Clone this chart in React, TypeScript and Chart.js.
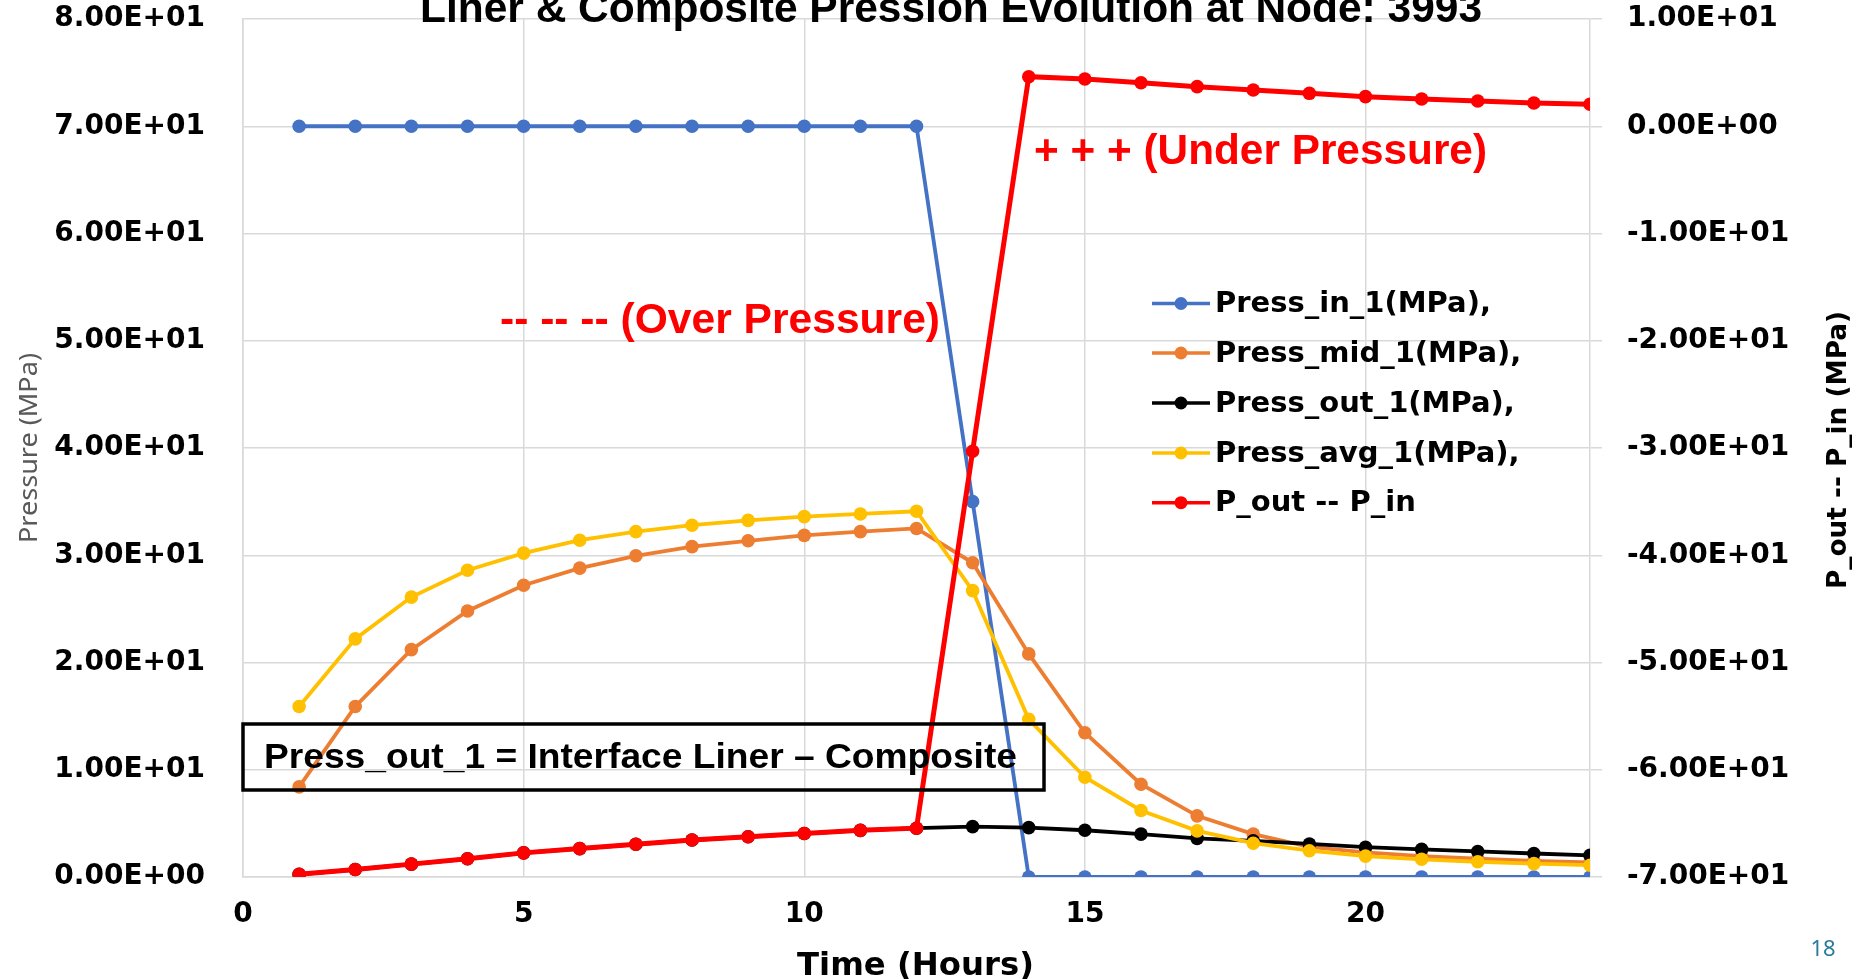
import React, { useEffect, useRef } from 'react';
import { Chart, registerables } from 'chart.js';

Chart.register(...registerables);

// ---------- data ----------
const hours = [1, 2, 3, 4, 5, 6, 7, 8, 9, 10, 11, 12, 13, 14, 15, 16, 17, 18, 19, 20, 21, 22, 23, 24];
const pressIn1 = [70, 70, 70, 70, 70, 70, 70, 70, 70, 70, 70, 70, 35, 0, 0, 0, 0, 0, 0, 0, 0, 0, 0, 0];
const pressMid1 = [8.4, 15.9, 21.2, 24.8, 27.2, 28.8, 29.95, 30.8, 31.35, 31.85, 32.2, 32.5, 29.3, 20.8, 13.45, 8.65, 5.7, 4.0, 2.8, 2.3, 1.95, 1.7, 1.5, 1.35];
const pressOut1 = [0.25, 0.7, 1.2, 1.7, 2.25, 2.65, 3.05, 3.45, 3.75, 4.05, 4.35, 4.55, 4.7, 4.6, 4.36, 4.0, 3.6, 3.37, 3.08, 2.78, 2.58, 2.38, 2.19, 2.02];
const pressAvg1 = [15.9, 22.2, 26.1, 28.6, 30.2, 31.4, 32.2, 32.8, 33.25, 33.6, 33.85, 34.1, 26.7, 14.7, 9.3, 6.2, 4.3, 3.15, 2.45, 1.95, 1.65, 1.42, 1.25, 1.1];
const pOutMinusPIn = [-69.75, -69.3, -68.8, -68.3, -67.75, -67.35, -66.95, -66.55, -66.25, -65.95, -65.65, -65.45, -30.3, 4.62, 4.4, 4.06, 3.69, 3.38, 3.07, 2.76, 2.54, 2.35, 2.17, 2.05];

const seriesNames = ['Press_in_1(MPa),', 'Press_mid_1(MPa),', 'Press_out_1(MPa),', 'Press_avg_1(MPa),', 'P_out -- P_in'];
const seriesColors = ['#4472C4', '#ED7D31', '#000000', '#FFC000', '#FF0000'];
const xTickValues = [0, 5, 10, 15, 20];

const titleText = 'Liner & Composite Pression Evolution at Node: 3993';
const xAxisTitle = 'Time (Hours)';
const leftAxisTitle = 'Pressure (MPa)';
const rightAxisTitle = 'P_out -- P_in (MPa)';
const overText = '-- -- -- (Over Pressure)';
const underText = '+ + + (Under Pressure)';
const boxText = 'Press_out_1 = Interface Liner \u2013 Composite';
const slideNumber = '18';

// ---------- helpers ----------
const fmtE = (v: number) => {
  const [m, e] = Number(v).toExponential(2).split('e');
  const sign = e[0] === '-' ? '-' : '+';
  const digits = e.replace(/[+-]/, '').padStart(2, '0');
  return `${m}E${sign}${digits}`;
};

const fitText = (
  ctx: CanvasRenderingContext2D,
  text: string,
  x: number,
  y: number,
  width: number,
  font: string,
  color: string
) => {
  ctx.save();
  ctx.font = font;
  ctx.fillStyle = color;
  ctx.textAlign = 'left';
  ctx.textBaseline = 'alphabetic';
  const m = ctx.measureText(text).width;
  ctx.translate(x, y);
  ctx.scale(width / m, 1);
  ctx.fillText(text, 0, 0);
  ctx.restore();
};

const rotText = (
  ctx: CanvasRenderingContext2D,
  text: string,
  cx: number,
  cy: number,
  length: number,
  font: string,
  color: string
) => {
  ctx.save();
  ctx.font = font;
  ctx.fillStyle = color;
  ctx.textAlign = 'center';
  ctx.textBaseline = 'middle';
  const m = ctx.measureText(text).width;
  ctx.translate(cx, cy);
  ctx.rotate(-Math.PI / 2);
  ctx.scale(length / m, 1);
  ctx.fillText(text, 0, 0);
  ctx.restore();
};

const decorPlugin = {
  id: 'decor',
  afterDraw(chart: any) {
    const ctx: CanvasRenderingContext2D = chart.ctx;
    // Title (partially cut at the top)
    fitText(ctx, titleText, 420, 22, 1062, 'bold 42px "Liberation Sans", Arial, sans-serif', '#000');
    // annotations
    fitText(ctx, overText, 500, 333, 440, 'bold 42px "Liberation Sans", Arial, sans-serif', '#FF0000');
    fitText(ctx, underText, 1034, 164, 453, 'bold 42px "Liberation Sans", Arial, sans-serif', '#FF0000');
    // box
    ctx.save();
    ctx.strokeStyle = '#000';
    ctx.lineWidth = 3.5;
    ctx.strokeRect(243, 724, 801, 66);
    ctx.restore();
    fitText(ctx, boxText, 264, 768, 753, 'bold 35px "Liberation Sans", Arial, sans-serif', '#000');
    // axis titles
    rotText(ctx, leftAxisTitle, 30, 448, 190, '26px "Noto Sans", sans-serif', '#595959');
    rotText(ctx, rightAxisTitle, 1839, 450, 278, 'bold 27px "DejaVu Sans", sans-serif', '#000');
    fitText(ctx, xAxisTitle, 797, 975, 237, 'bold 32px "DejaVu Sans", sans-serif', '#000');
    // legend
    const rows = [303.5, 353, 403, 453, 502.7];
    seriesNames.forEach((name, i) => {
      const y = rows[i];
      ctx.save();
      ctx.strokeStyle = seriesColors[i];
      ctx.lineWidth = 3.5;
      ctx.beginPath();
      ctx.moveTo(1152, y);
      ctx.lineTo(1210, y);
      ctx.stroke();
      ctx.fillStyle = seriesColors[i];
      ctx.beginPath();
      ctx.arc(1181, y, 6.5, 0, Math.PI * 2);
      ctx.fill();
      ctx.font = 'bold 29px "DejaVu Sans", sans-serif';
      ctx.fillStyle = '#000';
      ctx.textAlign = 'left';
      ctx.textBaseline = 'middle';
      ctx.fillText(name, 1215, y + 1);
      ctx.restore();
    });
    // slide number
    ctx.save();
    ctx.font = '22px "Noto Sans", sans-serif';
    ctx.fillStyle = '#2A7B9B';
    ctx.textAlign = 'center';
    ctx.textBaseline = 'middle';
    ctx.fillText(slideNumber, 1823, 950);
    ctx.restore();
  },
};

const tickFont = { family: '"DejaVu Sans", sans-serif', weight: 'bold' as const, size: 28 };
const gridColor = '#D9D9D9';

export default function App() {
  const ref = useRef<HTMLCanvasElement | null>(null);

  useEffect(() => {
    if (!ref.current) return;
    const series = [pressIn1, pressMid1, pressOut1, pressAvg1, pOutMinusPIn];
    const orders = [4, 3, 2, 1, 0];
    const widths = [3.8, 3.8, 3.8, 3.8, 5];
    const datasets = series.map((arr, i) => ({
      label: seriesNames[i],
      data: hours.map((h, j) => ({ x: h, y: arr[j] })),
      borderColor: seriesColors[i],
      backgroundColor: seriesColors[i],
      borderWidth: widths[i],
      pointRadius: 6.8,
      pointBorderWidth: 0,
      pointBackgroundColor: seriesColors[i],
      tension: 0,
      order: orders[i],
      yAxisID: i === 4 ? 'y2' : 'y',
    }));

    const chart = new Chart(ref.current, {
      type: 'line',
      data: { datasets },
      options: {
        animation: false,
        responsive: false,
        devicePixelRatio: 1,
        layout: { padding: { top: 19, left: 0, right: 0, bottom: 0 } },
        plugins: {
          legend: { display: false },
          title: { display: false },
          tooltip: { enabled: false },
        },
        scales: {
          x: {
            type: 'linear',
            min: 0,
            max: 24,
            afterBuildTicks: (s: any) => {
              s.ticks = xTickValues.map((v) => ({ value: v }));
            },
            afterFit: (s: any) => {
              s.height = 102;
              s.paddingLeft = 0;
              s.paddingRight = 0;
            },
            grid: { color: gridColor, lineWidth: 1.5, drawTicks: false },
            border: { color: gridColor, width: 1.5 },
            ticks: { padding: 21, font: tickFont, color: '#000', maxRotation: 0, autoSkip: false },
          },
          y: {
            position: 'left',
            min: 0,
            max: 80,
            afterFit: (s: any) => {
              s.width = 243;
              s.paddingTop = 0;
              s.paddingBottom = 0;
            },
            grid: { color: gridColor, lineWidth: 1.5, drawTicks: false },
            border: { color: gridColor, width: 1.5 },
            ticks: { stepSize: 10, padding: 38, font: tickFont, color: '#000', callback: (v: any) => fmtE(Number(v)) },
          },
          y2: {
            position: 'right',
            min: -70,
            max: 10,
            afterFit: (s: any) => {
              s.width = 269;
              s.paddingTop = 0;
              s.paddingBottom = 0;
            },
            grid: { drawOnChartArea: false, color: gridColor, lineWidth: 1.5, tickLength: 12 },
            border: { color: gridColor, width: 1.5 },
            ticks: { stepSize: 10, padding: 25, font: tickFont, color: '#000', callback: (v: any) => fmtE(Number(v)) },
          },
        },
      } as any,
      plugins: [decorPlugin],
    });
    return () => chart.destroy();
  }, []);

  return (
    <div style={{ position: 'absolute', left: 0, top: 0, width: 1859, height: 979, background: '#fff' }}>
      <canvas ref={ref} width={1859} height={979} style={{ display: 'block' }} />
    </div>
  );
}
